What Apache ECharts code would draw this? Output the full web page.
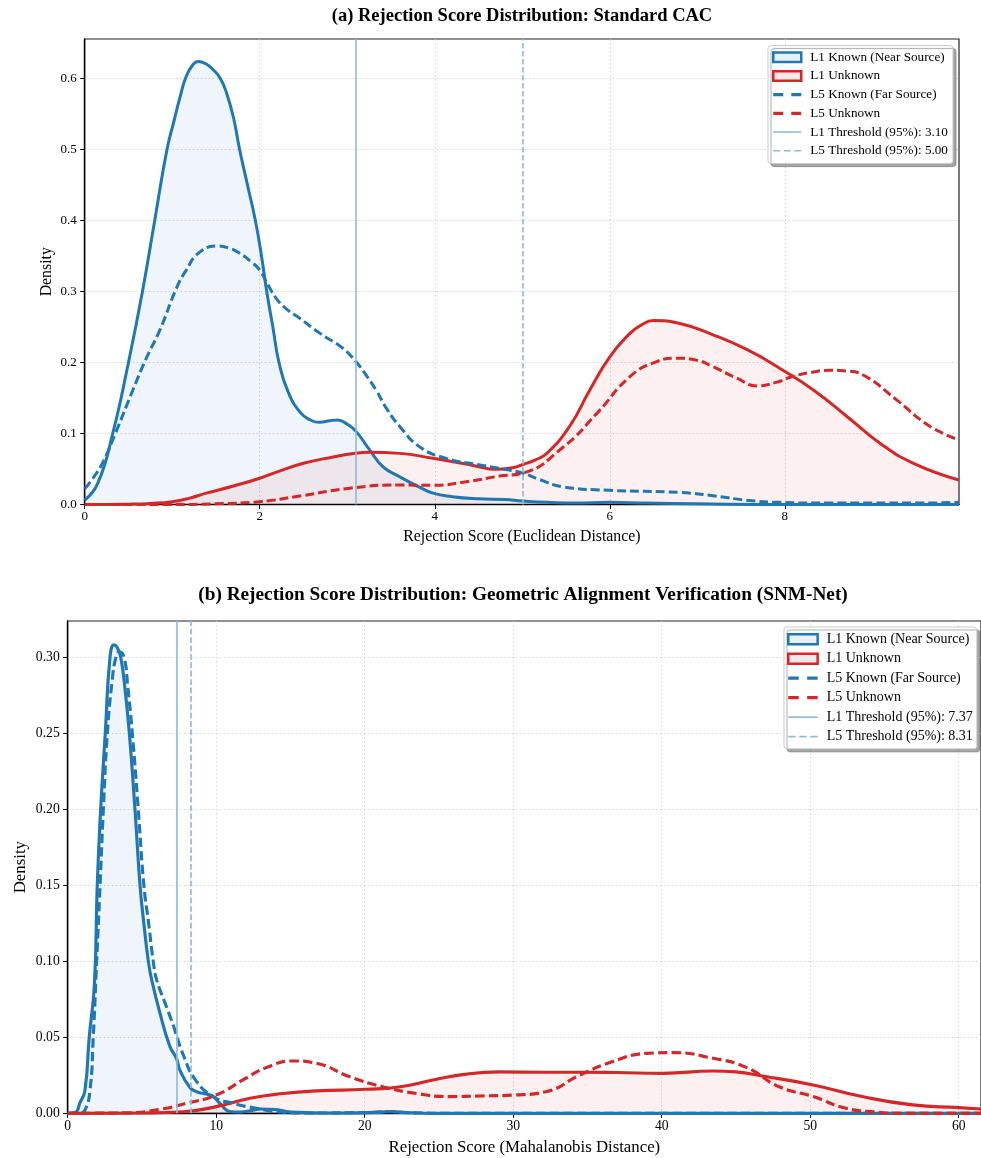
<!DOCTYPE html>
<html>
<head>
<meta charset="utf-8">
<script src="https://cdn.jsdelivr.net/npm/echarts@6/dist/echarts.min.js"></script>
<style>
  html, body { margin: 0; padding: 0; background: #fff; }
  #chart { width: 981px; height: 1158px; }
</style>
</head>
<body>
<div id="chart"></div>
<script>
// ---------- Panel (a): Standard CAC, Euclidean distance ----------
const aL1KnownX = [0, 0.15, 0.32, 0.5, 0.66, 0.8, 0.94, 1.02, 1.09, 1.16, 1.24, 1.3, 1.38, 1.47, 1.55, 1.62, 1.7, 1.77, 1.86, 1.95, 2.02, 2.08, 2.15, 2.22, 2.32, 2.46, 2.58, 2.69, 2.8, 2.89, 3.0, 3.1, 3.25, 3.41, 3.6, 3.8, 3.98, 4.2, 4.5, 4.8, 5.0, 5.3, 5.6, 6.0, 6.4, 7.0, 8.0, 9.99];
const aL1KnownY = [0.006, 0.03, 0.10, 0.20, 0.30, 0.40, 0.50, 0.54, 0.574, 0.603, 0.62, 0.624, 0.621, 0.612, 0.60, 0.58, 0.545, 0.50, 0.45, 0.40, 0.35, 0.30, 0.25, 0.20, 0.16, 0.13, 0.119, 0.116, 0.118, 0.119, 0.113, 0.103, 0.078, 0.053, 0.039, 0.026, 0.016, 0.011, 0.008, 0.007, 0.005, 0.003, 0.002, 0.003, 0.002, 0.001, 0.0, 0.0];

const aL1UnknownX = [0, 0.5, 0.75, 1.0, 1.2, 1.39, 1.7, 2.0, 2.2, 2.5, 2.84, 3.05, 3.26, 3.6, 3.98, 4.44, 4.7, 4.9, 5.0, 5.15, 5.28, 5.54, 5.77, 6.0, 6.23, 6.35, 6.5, 6.8, 7.18, 7.57, 7.94, 8.33, 8.71, 9.09, 9.47, 9.99];
const aL1UnknownY = [0, 0.0005, 0.0015, 0.004, 0.009, 0.016, 0.026, 0.037, 0.046, 0.058, 0.067, 0.0715, 0.0735, 0.072, 0.065, 0.055, 0.0495, 0.052, 0.056, 0.063, 0.072, 0.11, 0.161, 0.208, 0.241, 0.252, 0.259, 0.255, 0.239, 0.218, 0.192, 0.161, 0.124, 0.086, 0.058, 0.0345];

const aL5KnownX = [0, 0.1, 0.21, 0.35, 0.55, 0.7, 0.86, 1.05, 1.15, 1.31, 1.52, 1.65, 1.77, 1.92, 2.0, 2.1, 2.19, 2.3, 2.46, 2.69, 2.95, 3.1, 3.2, 3.33, 3.45, 3.6, 3.83, 4.13, 4.5, 4.74, 5.01, 5.2, 5.46, 6.0, 6.8, 7.2, 7.56, 7.94, 8.5, 9.0, 9.5, 9.99];
const aL5KnownY = [0.022, 0.038, 0.06, 0.10, 0.161, 0.205, 0.246, 0.305, 0.328, 0.355, 0.364, 0.361, 0.354, 0.34, 0.33, 0.308, 0.29, 0.276, 0.262, 0.241, 0.22, 0.201, 0.185, 0.161, 0.135, 0.11, 0.081, 0.065, 0.056, 0.051, 0.044, 0.035, 0.025, 0.020, 0.017, 0.012, 0.006, 0.003, 0.002, 0.002, 0.002, 0.003];

const aL5UnknownX = [0, 1.0, 1.5, 2.0, 2.46, 3.03, 3.6, 3.98, 4.36, 4.74, 5.0, 5.47, 5.85, 6.23, 6.53, 6.76, 7.0, 7.18, 7.45, 7.68, 7.9, 8.08, 8.3, 8.51, 8.7, 8.9, 9.28, 9.66, 9.99];
const aL5UnknownY = [0, 0.0, 0.001, 0.004, 0.012, 0.023, 0.0275, 0.027, 0.032, 0.040, 0.044, 0.081, 0.128, 0.18, 0.201, 0.206, 0.203, 0.194, 0.178, 0.167, 0.172, 0.180, 0.186, 0.189, 0.188, 0.182, 0.147, 0.11, 0.091];

const aThresholds = [3.10, 5.00];
const aXTicks = [0, 2, 4, 6, 8];
const aYTicks = [0, 0.1, 0.2, 0.3, 0.4, 0.5, 0.6];

// ---------- Panel (b): SNM-Net, Mahalanobis distance ----------
const bL1KnownX = [0, 0.5, 0.83, 1.16, 1.45, 1.8, 1.99, 2.22, 2.53, 2.85, 3.12, 3.35, 3.57, 3.85, 4.15, 4.53, 4.87, 5.15, 5.43, 5.65, 6.21, 6.88, 7.33, 7.55, 8.23, 8.68, 9.4, 9.8, 10.3, 10.9, 11.5, 12.2, 13, 14, 15, 18, 21, 21.7, 22.5, 25, 30, 40, 50, 61.5];
const bL1KnownY = [0, 0.0005, 0.007, 0.015, 0.05, 0.085, 0.15, 0.20, 0.25, 0.30, 0.308, 0.306, 0.30, 0.28, 0.25, 0.20, 0.15, 0.123, 0.10, 0.088, 0.066, 0.044, 0.036, 0.0285, 0.017, 0.0142, 0.0125, 0.011, 0.006, 0.0012, 0.0008, 0.0015, 0.0028, 0.0025, 0.0008, 0.0002, 0.0006, 0.0012, 0.0006, 0, 0, 0, 0, 0];

const bL1UnknownX = [0, 5, 7.78, 10.0, 12.27, 14.5, 16.76, 20.1, 22.4, 24.6, 26.85, 29.1, 32, 34.5, 37, 40.1, 43.45, 45, 46.8, 50.2, 53.5, 56.9, 60, 61.5];
const bL1UnknownY = [0, 0.0002, 0.001, 0.0044, 0.0099, 0.013, 0.0147, 0.0158, 0.0175, 0.0219, 0.0258, 0.0272, 0.027, 0.027, 0.0268, 0.0263, 0.0278, 0.0272, 0.0245, 0.0186, 0.011, 0.0055, 0.0037, 0.0028];

const bL5KnownX = [0, 0.8, 1.16, 1.5, 1.72, 1.95, 2.18, 2.4, 2.67, 3.0, 3.25, 3.47, 3.79, 4.05, 4.35, 4.75, 5.13, 5.45, 5.76, 5.99, 6.5, 7.1, 7.8, 8.6, 9.8, 11.1, 12.7, 14.1, 16, 20, 21.6, 23, 26, 30, 61.5];
const bL5KnownY = [0, 0.0002, 0.002, 0.015, 0.05, 0.10, 0.15, 0.20, 0.25, 0.285, 0.30, 0.3035, 0.30, 0.28, 0.25, 0.20, 0.15, 0.125, 0.10, 0.0877, 0.074, 0.058, 0.038, 0.022, 0.011, 0.0066, 0.0033, 0.001, 0.0002, 0.0005, 0.0012, 0.0004, 0, 0, 0];

const bL5UnknownX = [0, 4, 6.2, 8.0, 10.0, 11.8, 13.4, 15.2, 16.75, 19.0, 21.2, 23.5, 25.7, 27.75, 30, 32.2, 34.5, 36.7, 38.96, 40.75, 43.45, 45.7, 47.9, 50.2, 52.4, 54.6, 56, 61.5];
const bL5UnknownY = [0, 0.0003, 0.0026, 0.0066, 0.012, 0.0219, 0.0302, 0.0344, 0.0329, 0.024, 0.0175, 0.013, 0.011, 0.0114, 0.012, 0.0142, 0.0252, 0.034, 0.0394, 0.0399, 0.0362, 0.0302, 0.0175, 0.011, 0.0033, 0.0007, 0, 0];

const bThresholds = [7.37, 8.31];
const bXTicks = [0, 10, 20, 30, 40, 50, 60];
const bYTicks = [0, 0.05, 0.10, 0.15, 0.20, 0.25, 0.30];

// ---------- styling ----------
const FONT = 'Liberation Serif';
const BLUE = '#1f77b4';
const RED = '#d62728';
const BLUE_FILL = 'rgba(31,119,180,0.1)';
const RED_FILL = 'rgba(214,39,40,0.1)';
const THRESH = '#8fbbd9';

const pairs = (xs, ys) => xs.map((x, i) => [x, ys[i]]);

const ICON_DASH_THICK = 'path://M0,0h10v3.2h-10z M18,0h10v3.2h-10z';
const ICON_LINE_THIN = 'path://M0,0h28v1.6h-28z';
const ICON_DASH_THIN = 'path://M0,0h7v1.6h-7z M10.5,0h7v1.6h-7z M21,0h7v1.6h-7z';

function panel(i, p) {
  const s = p.scale;
  const thName1 = 'L1 Threshold (95%): ' + p.thresholds[0].toFixed(2);
  const thName5 = 'L5 Threshold (95%): ' + p.thresholds[1].toFixed(2);
  const fmt = v => v.toFixed(p.yDecimals);

  const curve = (name, xs, ys, color, fill, dashed) => ({
    name, type: 'line', xAxisIndex: i, yAxisIndex: i,
    data: pairs(xs, ys),
    smooth: 0.5, symbol: 'none', showSymbol: false,
    lineStyle: { color, width: 3 * s, type: dashed ? [9 * s, 4 * s] : 'solid', cap: 'butt', join: 'round' },
    itemStyle: { color },
    areaStyle: fill ? { color: fill, origin: 'start' } : undefined,
    silent: true
  });
  const thresh = (name, x, dashed) => ({
    name, type: 'line', xAxisIndex: i, yAxisIndex: i, data: [],
    symbol: 'none', itemStyle: { color: THRESH },
    lineStyle: { color: THRESH, width: 1.6 },
    markLine: {
      silent: true, symbol: 'none', animation: false,
      label: { show: false },
      lineStyle: { color: THRESH, width: 1.6 * s, type: dashed ? [5.5 * s, 2.5 * s] : 'solid' },
      data: [{ xAxis: x }]
    }
  });

  const labelStyle = { fontFamily: FONT, fontSize: 13 * s, color: '#000' };
  const nameStyle = { fontFamily: FONT, fontSize: p.nameSize, color: '#000' };
  const split = { show: true, lineStyle: { color: '#cfcfcf', width: 0.9, type: [1.5, 2.5] } };

  return {
    title: {
      text: p.title, left: p.titleX, top: p.titleTop, textAlign: 'center', padding: 0,
      textStyle: { fontFamily: FONT, fontWeight: 'bold', fontSize: p.titleSize, color: '#000' }
    },
    grid: { left: p.grid[0], top: p.grid[1], width: p.grid[2], height: p.grid[3],
            show: true, borderColor: '#222', borderWidth: 1.2, backgroundColor: 'transparent' },
    xAxis: {
      gridIndex: i, type: 'value', min: 0, max: p.xMax, interval: p.xTicks[1] - p.xTicks[0],
      name: p.xName, nameLocation: 'middle', nameGap: p.xNameGap, nameTextStyle: nameStyle, nameMoveOverlap: false,
      axisLine: { show: true, onZero: false, lineStyle: { color: '#000', width: 1.4 } },
      axisTick: { show: true, inside: false, length: 4.5, lineStyle: { color: '#000', width: 1 }, customValues: p.xTicks },
      axisLabel: { ...labelStyle, margin: 6, customValues: p.xTicks, formatter: v => String(v) },
      splitLine: split
    },
    yAxis: {
      gridIndex: i, type: 'value', min: 0, max: p.yMax, interval: p.yTicks[1] - p.yTicks[0],
      name: 'Density', nameLocation: 'middle', nameGap: p.yNameGap, nameRotate: 90, nameTextStyle: nameStyle, nameMoveOverlap: false,
      axisLine: { show: true, onZero: false, lineStyle: { color: '#000', width: 1.4 } },
      axisTick: { show: true, inside: false, length: 4.5, lineStyle: { color: '#000', width: 1 }, customValues: p.yTicks },
      axisLabel: { ...labelStyle, margin: 8, customValues: p.yTicks, formatter: fmt },
      splitLine: split
    },
    legend: {
      orient: 'vertical', left: p.legendPos[0], top: p.legendPos[1],
      itemWidth: 28 * s, itemHeight: 9.5 * s, itemGap: p.legendGap, symbolKeepAspect: true,
      padding: p.legendPad,
      backgroundColor: '#fff', borderColor: '#cccccc', borderWidth: 1, borderRadius: 3,
      shadowColor: 'rgba(0,0,0,0.35)', shadowBlur: 1, shadowOffsetX: 3, shadowOffsetY: 3,
      textStyle: { fontFamily: FONT, fontSize: p.legendSize, color: '#000', lineHeight: p.legendSize + 0.3, padding: [0, 0, 0, 4] },
      selectedMode: false,
      data: [
        { name: 'L1 Known (Near Source)', icon: 'rect', itemStyle: { color: BLUE_FILL, borderColor: BLUE, borderWidth: 2.5 } },
        { name: 'L1 Unknown', icon: 'rect', itemStyle: { color: RED_FILL, borderColor: RED, borderWidth: 2.5 } },
        { name: 'L5 Known (Far Source)', icon: ICON_DASH_THICK, itemStyle: { color: BLUE, borderWidth: 0 } },
        { name: 'L5 Unknown', icon: ICON_DASH_THICK, itemStyle: { color: RED, borderWidth: 0 } },
        { name: thName1, icon: ICON_LINE_THIN, itemStyle: { color: THRESH, borderWidth: 0 } },
        { name: thName5, icon: ICON_DASH_THIN, itemStyle: { color: THRESH, borderWidth: 0 } }
      ]
    },
    series: [
      curve('L1 Known (Near Source)', p.l1kx, p.l1ky, BLUE, BLUE_FILL, false),
      curve('L1 Unknown', p.l1ux, p.l1uy, RED, RED_FILL, false),
      curve('L5 Known (Far Source)', p.l5kx, p.l5ky, BLUE, null, true),
      curve('L5 Unknown', p.l5ux, p.l5uy, RED, null, true),
      thresh(thName1, p.thresholds[0], false),
      thresh(thName5, p.thresholds[1], true)
    ]
  };
}

const pa = panel(0, {
  scale: 1,
  title: '(a) Rejection Score Distribution: Standard CAC', titleX: 522, titleTop: 7, titleSize: 18.5,
  grid: [84.7, 39, 874.3, 465.5],
  xMax: 9.99, yMax: 0.6556, xTicks: aXTicks, yTicks: aYTicks, yDecimals: 1,
  xName: 'Rejection Score (Euclidean Distance)', xNameGap: 24.5, yNameGap: 30, nameSize: 15.8,
  legendPos: [768, 45.5], legendGap: 5.2, legendSize: 13.2, legendPad: [5, 5, 6, 4],
  thresholds: aThresholds,
  l1kx: aL1KnownX, l1ky: aL1KnownY, l1ux: aL1UnknownX, l1uy: aL1UnknownY,
  l5kx: aL5KnownX, l5ky: aL5KnownY, l5ux: aL5UnknownX, l5uy: aL5UnknownY
});
const pb = panel(1, {
  scale: 1.05,
  title: '(b) Rejection Score Distribution: Geometric Alignment Verification (SNM-Net)', titleX: 523, titleTop: 585.5, titleSize: 19.3,
  grid: [67.7, 621, 913.9, 492.3],
  xMax: 61.5, yMax: 0.3237, xTicks: bXTicks, yTicks: bYTicks, yDecimals: 2,
  xName: 'Rejection Score (Mahalanobis Distance)', xNameGap: 26, yNameGap: 39, nameSize: 16.8,
  legendPos: [784, 627], legendGap: 5.2, legendSize: 14, legendPad: [5, 4, 5, 3],
  thresholds: bThresholds,
  l1kx: bL1KnownX, l1ky: bL1KnownY, l1ux: bL1UnknownX, l1uy: bL1UnknownY,
  l5kx: bL5KnownX, l5ky: bL5KnownY, l5ux: bL5UnknownX, l5uy: bL5UnknownY
});

const chart = echarts.init(document.getElementById('chart'), null, { renderer: 'canvas' });
chart.setOption({
  animation: false,
  backgroundColor: '#fff',
  title: [pa.title, pb.title],
  grid: [pa.grid, pb.grid],
  xAxis: [pa.xAxis, pb.xAxis],
  yAxis: [pa.yAxis, pb.yAxis],
  legend: [pa.legend, pb.legend],
  series: [...pa.series, ...pb.series]
});
</script>
</body>
</html>
